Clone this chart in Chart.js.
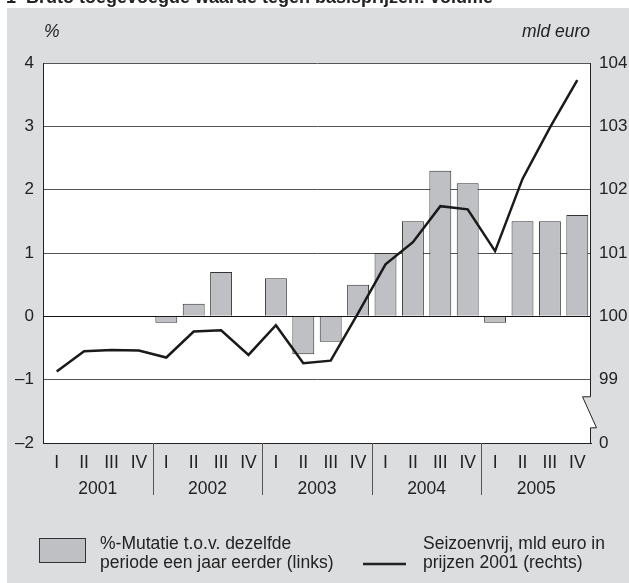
<!DOCTYPE html>
<html>
<head>
<meta charset="utf-8">
<script src="https://cdn.jsdelivr.net/npm/chart.js@4.4.0/dist/chart.umd.min.js"></script>
<style>
    html, body { margin: 0; padding: 0; background: #fff; }
    #wrap { width: 629px; height: 583px; position: relative; }
</style>
</head>
<body>
<div id="wrap"><canvas id="chart" width="629" height="583"></canvas></div>
<script>
// data
const quarters = ['I', 'II', 'III', 'IV', 'I', 'II', 'III', 'IV', 'I', 'II', 'III', 'IV',
                  'I', 'II', 'III', 'IV', 'I', 'II', 'III', 'IV'];
const years = ['2001', '2002', '2003', '2004', '2005'];
// %-mutatie t.o.v. zelfde periode een jaar eerder (links)
const mutatie = [null, null, null, null, -0.1, 0.2, 0.7, null, 0.6, -0.6, -0.4, 0.5,
                 1.0, 1.5, 2.3, 2.1, -0.1, 1.5, 1.5, 1.6];
// seizoenvrij, mld euro in prijzen 2001 (rechts)
const seizoenvrij = [99.13, 99.45, 99.47, 99.46, 99.35, 99.76, 99.78, 99.39, 99.86, 99.26, 99.30, 100.05,
                     100.82, 101.17, 101.74, 101.69, 101.03, 102.17, 102.98, 103.73];
const leftTicks = [-2, -1, 0, 1, 2, 3, 4];
const rightTicks = [98, 99, 100, 101, 102, 103, 104];
const rightTickLabels = ['0', '99', '100', '101', '102', '103', '104'];

const FONT = '"Liberation Sans", Arial, Helvetica, sans-serif';
const PANEL = '#dcdddf';
const BAR = '#bfc0c4';
const INK = '#222';

const decor = {
    id: 'decor',
    beforeDraw(chart) {
        const { ctx, chartArea: a } = chart;
        ctx.save();
        ctx.fillStyle = '#fff';
        ctx.fillRect(0, 0, chart.width, chart.height);
        ctx.fillStyle = PANEL;
        ctx.fillRect(7, 8, chart.width - 7, chart.height - 8);
        ctx.fillStyle = '#fff';
        ctx.fillRect(a.left, a.top, a.right - a.left, a.bottom - a.top);
        ctx.restore();
    },
    afterDraw(chart) {
        const { ctx, chartArea: a } = chart;
        const x = chart.scales.x;
        const y1 = chart.scales.y1;
        ctx.save();

        // title, cut off at the top like in the original
        ctx.fillStyle = INK;
        ctx.textBaseline = 'alphabetic';
        ctx.textAlign = 'left';
        ctx.font = 'bold 18px ' + FONT;
        ctx.fillText('1  Bruto toegevoegde waarde tegen basisprijzen: volume', 6, 3);

        // unit labels
        ctx.font = 'italic 17.5px ' + FONT;
        ctx.textBaseline = 'middle';
        ctx.fillText('%', 44, 32);
        ctx.textAlign = 'right';
        ctx.fillText('mld euro', 590, 32);

        // year labels and separators
        ctx.font = '17.5px ' + FONT;
        ctx.textAlign = 'center';
        years.forEach((yr, i) => {
            const cx = (x.getPixelForTick(i * 4 + 1) + x.getPixelForTick(i * 4 + 2)) / 2;
            ctx.fillText(yr, cx, 489);
        });
        ctx.strokeStyle = '#555';
        ctx.lineWidth = 1;
        for (let i = 1; i < years.length; i++) {
            const sx = Math.round((x.getPixelForTick(i * 4 - 1) + x.getPixelForTick(i * 4)) / 2) + 0.5;
            ctx.beginPath();
            ctx.moveTo(sx, a.bottom);
            ctx.lineTo(sx, 495);
            ctx.stroke();
        }

        // right border with axis break
        const r = a.right - 0.5;
        const b1 = y1.getPixelForValue(98.73);
        const b2 = y1.getPixelForValue(98.24);
        const mid = b1 + (b2 - b1) * 8 / 14;
        ctx.fillStyle = PANEL;
        ctx.beginPath();
        ctx.moveTo(r - 8, b1); ctx.lineTo(r + 0.5, b1); ctx.lineTo(r + 0.5, mid); ctx.closePath();
        ctx.fill();
        ctx.fillStyle = '#fff';
        ctx.beginPath();
        ctx.moveTo(r, mid); ctx.lineTo(r + 6, b2); ctx.lineTo(r, b2); ctx.closePath();
        ctx.fill();
        ctx.strokeStyle = INK;
        ctx.beginPath();
        ctx.moveTo(r, a.top);
        ctx.lineTo(r, b1);
        ctx.lineTo(r - 8, b1);
        ctx.lineTo(r + 6, b2);
        ctx.lineTo(r, b2);
        ctx.lineTo(r, a.bottom);
        ctx.stroke();

        // legend
        ctx.fillStyle = BAR;
        ctx.strokeStyle = '#333';
        ctx.fillRect(39, 538, 46, 24);
        ctx.strokeRect(39.5, 538.5, 46, 24);
        ctx.strokeStyle = INK;
        ctx.lineWidth = 2.5;
        ctx.beginPath();
        ctx.moveTo(363, 564);
        ctx.lineTo(406, 564);
        ctx.stroke();
        ctx.fillStyle = INK;
        ctx.font = '17.5px ' + FONT;
        ctx.textAlign = 'left';
        ctx.textBaseline = 'alphabetic';
        ctx.fillText('%-Mutatie t.o.v. dezelfde', 100, 549);
        ctx.fillText('periode een jaar eerder (links)', 100, 568);
        ctx.fillText('Seizoenvrij, mld euro in', 423, 549);
        ctx.fillText('prijzen 2001 (rechts)', 423, 568);

        ctx.restore();
    }
};

const ctx = document.getElementById('chart').getContext('2d');
new Chart(ctx, {
    data: {
        labels: quarters,
        datasets: [
            {
                type: 'line',
                label: 'Seizoenvrij, mld euro in prijzen 2001 (rechts)',
                data: seizoenvrij,
                yAxisID: 'y1',
                borderColor: '#1a1a1a',
                borderWidth: 2.5,
                pointRadius: 0,
                tension: 0,
                order: 0
            },
            {
                type: 'bar',
                label: '%-Mutatie t.o.v. dezelfde periode een jaar eerder (links)',
                data: mutatie,
                yAxisID: 'y',
                backgroundColor: BAR,
                borderColor: '#333',
                borderWidth: 1,
                barPercentage: 0.8,
                categoryPercentage: 1.0,
                order: 1
            }
        ]
    },
    options: {
        responsive: false,
        animation: false,
        devicePixelRatio: 1,
        layout: { padding: { top: 63, left: 0, right: 0, bottom: 0 } },
        plugins: {
            legend: { display: false },
            title: { display: false },
            tooltip: { enabled: false }
        },
        scales: {
            x: {
                type: 'category',
                offset: true,
                grid: { display: false, drawTicks: false },
                border: { display: true, color: INK, width: 1 },
                ticks: {
                    color: INK,
                    font: { size: 17.5, family: FONT },
                    padding: 10,
                    maxRotation: 0,
                    autoSkip: false
                },
                afterFit: s => { s.height = 140; }
            },
            y: {
                type: 'linear',
                position: 'left',
                min: leftTicks[0],
                max: leftTicks[leftTicks.length - 1],
                afterBuildTicks: s => { s.ticks = leftTicks.map(v => ({ value: v })); },
                grid: {
                    color: c => (c.tick && c.tick.value === 0) ? '#111' : '#555',
                    drawTicks: false
                },
                border: { display: true, color: INK },
                ticks: {
                    color: INK,
                    font: { size: 17, family: FONT },
                    padding: 9,
                    callback: v => v < 0 ? '\u2013' + Math.abs(v) : String(v)
                },
                afterFit: s => { s.width = 43; }
            },
            y1: {
                type: 'linear',
                position: 'right',
                min: rightTicks[0],
                max: rightTicks[rightTicks.length - 1],
                afterBuildTicks: s => { s.ticks = rightTicks.map(v => ({ value: v })); },
                grid: { display: false, drawTicks: false },
                border: { display: false },
                ticks: {
                    color: INK,
                    font: { size: 17, family: FONT },
                    padding: 8,
                    callback: (v, i) => rightTickLabels[i]
                },
                afterFit: s => { s.width = 38; }
            }
        }
    },
    plugins: [decor]
});
</script>
</body>
</html>
